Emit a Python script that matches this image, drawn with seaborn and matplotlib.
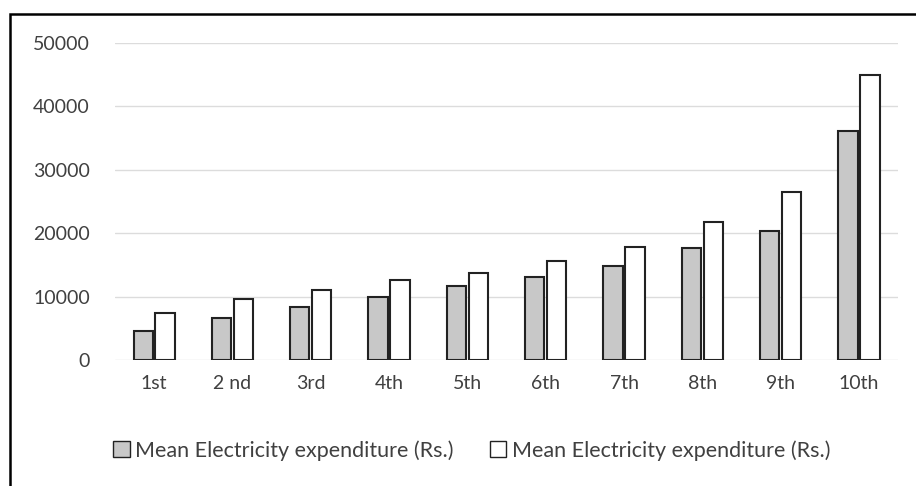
import numpy as np
import pandas as pd
import seaborn as sns
import matplotlib.pyplot as plt
from matplotlib.patches import Rectangle, Patch

# decile groups and the two series
deciles = ["1st", "2 nd", "3rd", "4th", "5th", "6th", "7th", "8th", "9th", "10th"]
series_a = [4600, 6600, 8400, 10000, 11700, 13100, 14800, 17700, 20400, 36100]
series_b = [7400, 9600, 11000, 12600, 13700, 15600, 17800, 21800, 26500, 45000]
series_names = ["Mean Electricity expenditure (Rs.)", "Mean Electricity expenditure (Rs.) "]
y_ticks = [0, 10000, 20000, 30000, 40000, 50000]

df = pd.DataFrame({
    "decile": deciles * 2,
    "value": series_a + series_b,
    "series": [series_names[0]] * len(deciles) + [series_names[1]] * len(deciles),
})

sns.set_style("white")
plt.rcParams["font.family"] = ["Lato", "DejaVu Sans"]
text_col = "#404040"

fig = plt.figure(figsize=(9.16, 4.86), dpi=100)
ax = fig.add_axes([0.1255, 0.259, 0.855, 0.6525])

sns.barplot(data=df, x="decile", y="value", hue="series", order=deciles,
            palette=["#c8c8c8", "#ffffff"], edgecolor="#222222", linewidth=1.5,
            width=0.56, gap=0.12, ax=ax, legend=False)

ax.set_ylim(0, 50000)
ax.set_yticks(y_ticks)
ax.set_yticklabels([str(t) for t in y_ticks])
ax.set_xlabel("")
ax.set_ylabel("")
ax.yaxis.grid(True, color="#dcdcdc", linewidth=1)
ax.set_axisbelow(True)
for s in ax.spines.values():
    s.set_visible(False)
ax.tick_params(axis="both", length=0, labelsize=14, labelcolor=text_col)
ax.tick_params(axis="y", pad=18)
ax.tick_params(axis="x", pad=11)

handles = [Patch(facecolor="#c8c8c8", edgecolor="#222222", linewidth=1),
           Patch(facecolor="#ffffff", edgecolor="#222222", linewidth=1)]
fig.legend(handles, series_names, loc="center", bbox_to_anchor=(0.518, 0.073),
           ncol=2, frameon=False, fontsize=15.5, handlelength=0.75, handleheight=0.75,
           handletextpad=0.25, columnspacing=1.7, labelcolor=text_col)

# outer chart frame (only top and left edges are visible in the crop)
fig.patches.append(Rectangle((10 / 916, -0.05), 1.2, 1 - 14 / 486 + 0.05,
                             transform=fig.transFigure, fill=False,
                             edgecolor="black", linewidth=1.8))

fig.savefig("out.png", dpi=100, facecolor="white")
